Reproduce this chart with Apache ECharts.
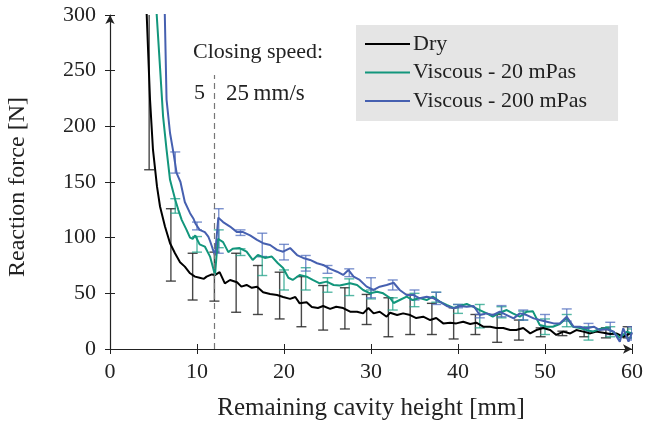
<!DOCTYPE html>
<html><head><meta charset="utf-8">
<script src="https://cdn.jsdelivr.net/npm/echarts@6/dist/echarts.min.js"></script>
<style>html,body{margin:0;padding:0;background:#fff}#c{width:647px;height:424px}</style>
</head><body><div id="c"></div>
<script>
// ---- data ----
const xTicks = [0, 10, 20, 30, 40, 50, 60];
const yTicks = [0, 50, 100, 150, 200, 250, 300];
const seriesNames = ['Dry', 'Viscous - 20 mPas', 'Viscous - 200 mPas'];

const dryX = [4.0,4.22,4.6,4.94,5.4,5.75,6.32,6.9,7.47,8.05,8.6,9.2,9.77,10.3,10.8,11.1,11.7,12.1,12.6,13.2,13.8,14.6,15.1,15.7,16.3,16.9,17.6,18.4,19.2,19.9,20.7,21.3,21.8,22.6,23.2,23.9,24.5,25.3,26.0,26.8,27.6,28.4,29.1,29.7,30.3,31.0,31.8,32.2,33.0,33.7,34.5,35.2,36.0,36.8,37.5,38.3,39.1,39.8,40.6,41.4,42.1,42.9,43.7,44.4,45.2,46.0,46.7,47.5,48.3,49.0,49.8,50.6,51.3,52.1,52.9,53.6,54.4,55.2,55.9,56.7,57.5,58.2,59.0,59.8,60];
const dryY = [330,300,224,179,146,128,110,95,86,78,74,68,65,64,63,65,67,66.5,69,59,62,60,56,57.5,55,56,51,49.4,48.5,46.7,45,46.7,41,42,37.7,36.8,38.6,36,38,36.8,33.5,33.5,32,36.8,32,33.5,29,32.6,30.5,32,30.5,27.8,29,26,27.8,23,23.6,23,24.5,22.5,23.6,20,20,18.8,18.8,17,17,18.8,14,17,18.8,17,12.6,15.6,14,17,15.6,14,15.6,14.6,13.5,14,11,14,13];

const v20X = [5.2,5.37,5.75,6.1,6.5,6.9,7.1,7.5,7.85,8.24,8.8,9.2,9.5,9.8,10.3,10.9,11.5,12.07,12.4,13.0,13.6,14.1,14.9,15.7,16.4,17.0,17.8,18.6,19.3,19.9,20.5,21.0,21.8,22.6,23.3,24.1,24.9,25.7,26.4,27.6,28.4,29.1,29.9,30.7,31.4,32.2,32.6,33.3,34.1,34.8,35.6,36.4,37.1,37.9,38.7,39.5,40.2,41.0,41.7,42.5,43.3,44.0,44.8,45.6,46.3,47.1,47.9,48.6,49.4,50.2,50.9,51.7,52.5,53.2,54.0,54.8,55.5,56.3,57.1,57.8,58.6,59.4,60];
const v20Y = [330,300,253,209,179,152,146,134,125,116,107,100,99,102,94,92,83,66.5,99,96,87,90,90.7,87.4,80,84.4,81.8,83,77,72.8,64,62,66.5,65,62,59,60.5,57.5,57,59,57.5,53,50,51.5,50,45.8,41.3,44,47,44,45.8,44,47,42.5,39.5,36.8,38.6,40.4,38,35,32,29,32.6,35,32,29,33.5,34,21.6,20,20,22.5,27.8,20,18.8,17,15.6,18,18.8,15.6,10,15.6,14];

const v200X = [6.2,6.3,6.5,6.9,7.3,7.66,8.1,8.6,9.2,9.6,9.8,10.3,10.9,11.3,11.5,11.8,12.07,12.45,13.0,13.8,14.6,15.3,16.1,16.9,17.6,18.4,19.2,19.9,20.7,21.5,22.2,23.0,23.8,24.5,25.3,26.1,26.8,27.4,28.0,28.7,29.5,30.3,31.0,31.8,32.6,33.3,34.1,34.9,35.6,36.4,37.2,37.9,38.7,39.5,40.2,41.0,41.8,42.5,43.3,44.0,44.8,45.6,46.4,47.1,47.9,48.7,49.4,50.2,51.0,51.7,52.5,53.3,54.0,54.8,55.6,56.3,57.1,57.9,58.6,59.0,59.6,60];
const v200Y = [330,300,224,194,176,158,150,132,122,117,113,107,105,101,97,90,84,118,114,110,105,105,102,98,95,93.4,89,87.4,90.7,84.4,81.8,80,77,75.5,72,69.4,66.5,71,65,62,56,53,56,57.5,59.5,53,48.5,48.5,45.5,47,45.5,42.5,38.6,36.5,38.6,38,38.6,30.5,32,30.5,33.5,30.5,27.5,32,30.5,27.5,26,24.5,23,23,29,20,20,18.6,20,17,17.7,15.6,6.6,18.6,6.6,15];

// error bars: position, lower, upper
const dryErrX = [4.5,7,9.5,12,14.5,17,19.5,22,24.5,27,29.5,32,34.5,37,39.5,42,44.5,47,49.5,52,54.5,57,59.5];
const dryErrLo = [161,61,44,43,33,31,27,20,17,18,22,11,13,13,9,13,6,8,11,12,11,10,10];
const dryErrHi = [360,126,86,87,86,75,69,65,57,55,49,46,49,41,37,31,31,26,19,16,19,19,20];

const v20ErrX = [7.5,10,12.5,15,17.5,20,22.5,25,27.5,30,32.5,35,37.5,40,42.5,45,47.5,50,52.5,55,57.5,60];
const v20ErrLo = [122,87,91,84,66,53,53,51,48,45,35,38,42,32,19,28,26,13,20,8,11,10];
const v20ErrHi = [135,101,107,90,83,71,73,64,63,53,46,50,51,40,40,38,34,27,31,20,20,18];

const v200ErrX = [7.5,10,12.5,15,17.5,20,22.5,25,27.5,30,32.5,35,37.5,40,42.5,45,47.5,50,52.5,55,57.5,60];
const v200ErrLo = [158,107,86,102,83,80,70,68,65,46,53,44,40,37,28,29,26,20,25,16,13,8];
const v200ErrHi = [177,114,126,107,104,94,84,75,72,64,62,53,51,40,31,39,35,31,36,23,24,20];

const switchX = 12;      // closing speed change
const switchTop = 246;

// ---- chart ----
const FONT = '"Liberation Serif", "Times New Roman", serif';
const colors = ['#000000', '#12967c', '#4660b0'];
const errColors = ['rgba(40,40,40,0.85)', 'rgba(30,160,135,0.75)', 'rgba(80,110,190,0.75)'];

function pairs(xs, ys) { return xs.map((x, i) => [x, ys[i]]); }
function errData(xs, lo, hi) { return xs.map((x, i) => [x, lo[i], hi[i]]); }

function errSeries(name, data, color) {
  return {
    type: 'custom', name: name + ' err', data: data, clip: true, silent: true, z: 1,
    encode: { x: 0, y: [1, 2] },
    renderItem: function (params, api) {
      const x = api.value(0), lo = api.value(1), hi = api.value(2);
      const a = api.coord([x, hi]), b = api.coord([x, lo]);
      const w = 5;
      const st = { stroke: color, lineWidth: 1.4 };
      return { type: 'group', children: [
        { type: 'line', shape: { x1: a[0], y1: a[1], x2: b[0], y2: b[1] }, style: st },
        { type: 'line', shape: { x1: a[0] - w, y1: a[1], x2: a[0] + w, y2: a[1] }, style: st },
        { type: 'line', shape: { x1: b[0] - w, y1: b[1], x2: b[0] + w, y2: b[1] }, style: st }
      ]};
    }
  };
}

const chart = echarts.init(document.getElementById('c'), null, { renderer: 'canvas' });
const axisTxt = { fontFamily: FONT, fontSize: 22, color: '#222' };
chart.setOption({
  animation: false,
  textStyle: { fontFamily: FONT },
  grid: { left: 110, right: 15, top: 15, bottom: 75, containLabel: false, outerBoundsMode: 'none' },
  legend: {
    data: seriesNames, orient: 'vertical', left: 356, top: 25, icon: 'rect',
    backgroundColor: '#e5e5e5', borderRadius: 0,
    padding: [8, 31, 9, 9], itemWidth: 45, itemHeight: 2, itemGap: 6.5,
    textStyle: { fontFamily: FONT, fontSize: 22, color: '#222', padding: [0, 0, 0, -2] },
    selectedMode: false
  },
  xAxis: [{
    type: 'value', min: 0, max: 60, interval: 10,
    axisLine: { show: true, lineStyle: { color: '#222', width: 1.2 }, symbol: ['none', 'arrow'], symbolSize: [7, 9] },
    axisTick: { show: true, inside: false, length: 5, lineStyle: { color: '#222' } },
    axisLabel: Object.assign({ margin: 12 }, axisTxt),
    splitLine: { show: false },
    name: 'Remaining cavity height [mm]', nameLocation: 'middle', nameGap: 47,
    nameTextStyle: { fontFamily: FONT, fontSize: 25, color: '#222' }
  }, {
    type: 'value', min: 0, max: 60, interval: 10, position: 'bottom',
    axisLine: { show: false }, axisLabel: { show: false }, splitLine: { show: false },
    axisTick: { show: true, inside: true, length: 5, lineStyle: { color: '#222' } }
  }],
  yAxis: [{
    type: 'value', min: 0, max: 300, interval: 50,
    axisLine: { show: true, lineStyle: { color: '#222', width: 1.2 }, symbol: ['none', 'arrow'], symbolSize: [7, 9] },
    axisTick: { show: true, inside: false, length: 5, lineStyle: { color: '#222' } },
    axisLabel: Object.assign({ margin: 14 }, axisTxt),
    splitLine: { show: false },
    name: 'Reaction force [N]', nameLocation: 'middle', nameGap: 80,
    nameTextStyle: { fontFamily: FONT, fontSize: 24, color: '#222', padding: [0, 10, 0, 0] }
  }, {
    type: 'value', min: 0, max: 300, interval: 50, position: 'left',
    axisLine: { show: false }, axisLabel: { show: false }, splitLine: { show: false },
    axisTick: { show: true, inside: true, length: 5, lineStyle: { color: '#222' } }
  }],
  graphic: [
    { type: 'text', left: 193, top: 41, style: { text: 'Closing speed:', font: '22px ' + FONT, fill: '#222' } },
    { type: 'text', left: 194, top: 82, style: { text: '5', font: '22px ' + FONT, fill: '#222' } },
    { type: 'text', left: 226, top: 82, style: { text: '25\u2009mm/s', font: '23px ' + FONT, fill: '#222' } }
  ],
  series: [
    errSeries('Dry', errData(dryErrX, dryErrLo, dryErrHi), errColors[0]),
    errSeries('V20', errData(v20ErrX, v20ErrLo, v20ErrHi), errColors[1]),
    errSeries('V200', errData(v200ErrX, v200ErrLo, v200ErrHi), errColors[2]),
    {
      type: 'line', name: seriesNames[0], data: pairs(dryX, dryY), showSymbol: false, symbol: 'none',
      clip: true, z: 3, lineStyle: { color: colors[0], width: 2 }, itemStyle: { color: colors[0] },
      markLine: {
        silent: true, symbol: ['none', 'none'], label: { show: false },
        lineStyle: { color: '#777', type: [6, 4], width: 1.2 },
        data: [[{ coord: [switchX, 0] }, { coord: [switchX, switchTop] }]]
      }
    },
    {
      type: 'line', name: seriesNames[1], data: pairs(v20X, v20Y), showSymbol: false, symbol: 'none',
      clip: true, z: 3, lineStyle: { color: colors[1], width: 2 }, itemStyle: { color: colors[1] }
    },
    {
      type: 'line', name: seriesNames[2], data: pairs(v200X, v200Y), showSymbol: false, symbol: 'none',
      clip: true, z: 3, lineStyle: { color: colors[2], width: 2 }, itemStyle: { color: colors[2] }
    }
  ]
});
</script></body></html>
